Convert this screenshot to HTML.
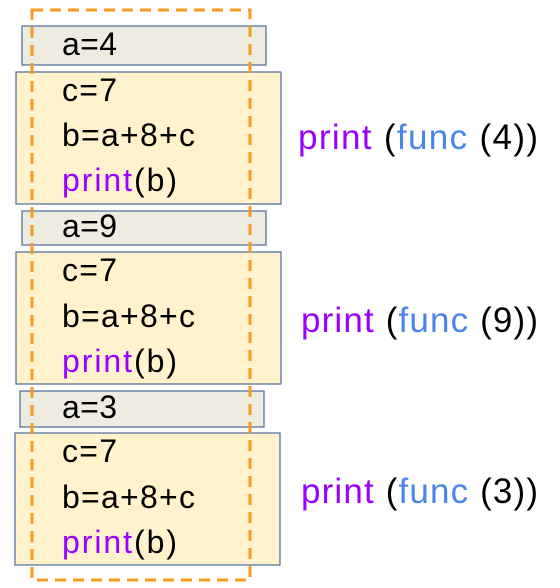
<!DOCTYPE html>
<html><head><style>html,body{margin:0;padding:0;background:#fff;width:560px;height:588px;overflow:hidden}</style></head>
<body>
<svg width="560" height="588" xmlns="http://www.w3.org/2000/svg" style="font-family:'Liberation Sans',sans-serif">
<g stroke="#4a6a9a" stroke-width="1.2">
<rect x="22" y="26" width="244" height="39" fill="#eeebe0"/>
<rect x="16" y="72" width="265" height="132" fill="#fff2cc"/>
<rect x="22" y="211" width="244" height="34" fill="#eeebe0"/>
<rect x="16" y="252" width="265" height="132" fill="#fff2cc"/>
<rect x="20" y="391" width="244" height="36" fill="#eeebe0"/>
<rect x="15" y="433" width="265" height="132" fill="#fff2cc"/>
</g>
<rect x="32" y="10" width="218" height="570" fill="none" stroke="#f79a1e" stroke-width="3" stroke-dasharray="11,7"/>
<g font-size="32" fill="#000">
<text x="62" y="55" textLength="55">a=4</text>
<text x="62" y="101" textLength="55">c=7</text>
<text x="62" y="146" textLength="133">b=a+8+c</text>
<text x="62" y="191" textLength="115"><tspan fill="#9900ff">print</tspan>(b)</text>
<text x="62" y="237" textLength="55">a=9</text>
<text x="62" y="281" textLength="55">c=7</text>
<text x="62" y="327" textLength="133">b=a+8+c</text>
<text x="62" y="372" textLength="115"><tspan fill="#9900ff">print</tspan>(b)</text>
<text x="62" y="418" textLength="55">a=3</text>
<text x="62" y="462" textLength="55">c=7</text>
<text x="62" y="508" textLength="133">b=a+8+c</text>
<text x="62" y="553" textLength="115"><tspan fill="#9900ff">print</tspan>(b)</text>
</g>
<g font-size="35" fill="#000">
<text x="298" y="149" textLength="240"><tspan fill="#9900ff">print</tspan> (<tspan fill="#4a86e8">func</tspan> (4))</text>
<text x="301" y="332" textLength="237"><tspan fill="#9900ff">print</tspan> (<tspan fill="#4a86e8">func</tspan> (9))</text>
<text x="301" y="503" textLength="237"><tspan fill="#9900ff">print</tspan> (<tspan fill="#4a86e8">func</tspan> (3))</text>
</g>
</svg>
</body></html>
